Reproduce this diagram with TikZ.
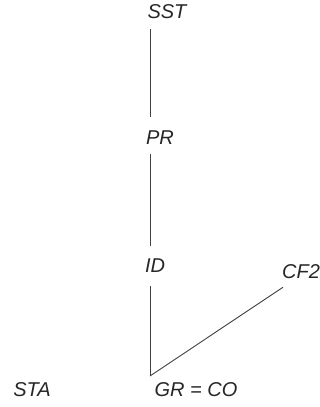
\documentclass[tikz,border=0pt]{standalone}
\usepackage{fontspec}
\setmainfont{Liberation Sans}
\begin{document}
\begin{tikzpicture}[x=1pt,y=-1pt,
  lbl/.style={font=\fontsize{20}{20}\selectfont\itshape, inner sep=0pt, anchor=center, text=black!85},
  conn/.style={draw=black!75, line width=0.9pt}]
\useasboundingbox (0,0) rectangle (320,407);
\node[lbl] (SST) at (167,12) {SST};
\node[lbl] (PR) at (160,138) {PR};
\node[lbl] (ID) at (155,266) {ID};
\node[lbl] (CF2) at (301,272) {CF2};
\node[lbl] (STA) at (32,390) {STA};
\node[lbl] (GR) at (196,390) {GR = CO};
\coordinate (v) at (150,376);
\draw[conn, shorten <=10pt, shorten >=14pt] (SST.south -| v) -- (PR.north -| v);
\draw[conn, shorten <=9pt, shorten >=13pt] (PR.south -| v) -- (ID.north -| v);
\draw[conn, shorten <=13pt] (ID.south -| v) -- (v);
\draw[conn] (v) -- ([shift={(1,8)}]CF2.south west);
\end{tikzpicture}
\end{document}
